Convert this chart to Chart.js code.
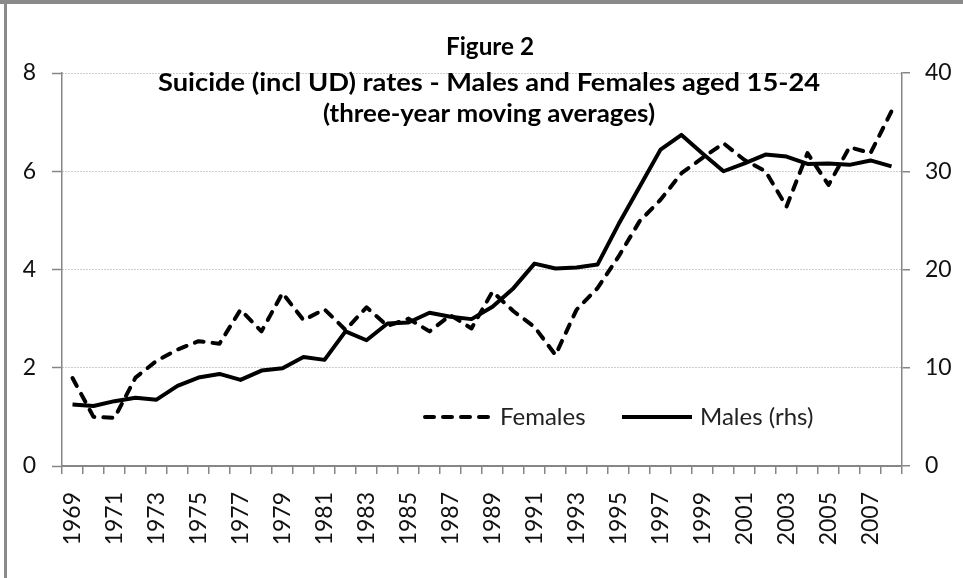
<!DOCTYPE html>
<html>
<head>
<meta charset="utf-8">
<script src="https://cdn.jsdelivr.net/npm/chart.js@4.4.1/dist/chart.umd.min.js"></script>
<style>
  html, body { margin: 0; padding: 0; background: #fff; }
  #wrap { width: 963px; height: 578px; position: relative; }
</style>
</head>
<body>
<div id="wrap"><canvas id="suicideChart" width="963" height="578"></canvas></div>
<script>
const years = [
  '1969', '1970', '1971', '1972', '1973', '1974', '1975', '1976', '1977', '1978',
  '1979', '1980', '1981', '1982', '1983', '1984', '1985', '1986', '1987', '1988',
  '1989', '1990', '1991', '1992', '1993', '1994', '1995', '1996', '1997', '1998',
  '1999', '2000', '2001', '2002', '2003', '2004', '2005', '2006', '2007', '2008'
];

// left axis
const females = [
  1.79, 1.0, 0.98, 1.8, 2.14, 2.37, 2.54, 2.49, 3.18, 2.74,
  3.52, 2.97, 3.19, 2.77, 3.23, 2.85, 3.0, 2.74, 3.07, 2.8,
  3.55, 3.15, 2.83, 2.26, 3.18, 3.62, 4.26, 4.98, 5.42, 5.96,
  6.27, 6.57, 6.23, 6.0, 5.28, 6.37, 5.72, 6.49, 6.37, 7.22
];

// right axis (rhs)
const males = [
  6.25, 6.1, 6.6, 6.95, 6.75, 8.15, 9.0, 9.37, 8.76, 9.71,
  9.95, 11.1, 10.8, 13.7, 12.8, 14.5, 14.6, 15.6, 15.2, 14.95,
  16.2, 18.1, 20.6, 20.1, 20.2, 20.5, 24.6, 28.4, 32.2, 33.7,
  31.8, 30.0, 30.8, 31.7, 31.5, 30.75, 30.8, 30.65, 31.1, 30.5
];

const leftTicks = [0, 2, 4, 6, 8];
const rightTicks = [0, 10, 20, 30, 40];

const titleLines = [
  'Figure 2',
  'Suicide (incl UD) rates - Males and Females aged 15-24',
  '(three-year moving averages)'
];
const legendLabels = ['Females', 'Males (rhs)'];

const AXIS_GREY = '#868686';
const FONT = 'Lato';

class RatesChart {
  constructor(canvas) {
    this.canvas = canvas;
    this.init();
  }

  async init() {
    // canvas text needs the fonts ready before the first draw
    await Promise.all([
      document.fonts.load('bold 24px ' + FONT),
      document.fonts.load('23px ' + FONT)
    ]);
    this.createChart();
  }

  createChart() {
    this.chart = new Chart(this.canvas, {
      type: 'line',
      data: {
        labels: years,
        datasets: [{
          label: legendLabels[0],
          data: females,
          yAxisID: 'y',
          borderColor: '#000',
          borderWidth: 4,
          borderDash: [9, 9],
          borderCapStyle: 'round',
          borderJoinStyle: 'round',
          pointRadius: 0,
          tension: 0
        }, {
          label: legendLabels[1],
          data: males,
          yAxisID: 'y1',
          borderColor: '#000',
          borderWidth: 4,
          borderJoinStyle: 'round',
          pointRadius: 0,
          tension: 0
        }]
      },
      options: {
        responsive: false,
        animation: false,
        layout: { padding: { top: 73, left: 0, right: 0, bottom: 0 } },
        plugins: {
          legend: { display: false },
          title: { display: false },
          tooltip: { enabled: false }
        },
        scales: {
          x: {
            offset: true,
            afterFit: (scale) => { scale.height = 112; },
            grid: {
              offset: true,
              drawOnChartArea: false,
              tickLength: 8,
              color: AXIS_GREY,
              lineWidth: 1.5
            },
            border: { color: AXIS_GREY, width: 2 },
            ticks: {
              autoSkip: false,
              minRotation: 90,
              maxRotation: 90,
              padding: 18,
              color: '#111',
              font: { family: FONT, size: 23 },
              callback: (value, index) => (index % 2 === 0 ? years[index] : '')
            }
          },
          y: {
            position: 'left',
            min: 0,
            max: 8,
            afterFit: (scale) => { scale.width = 62; },
            afterBuildTicks: (scale) => {
              scale.ticks = leftTicks.map(v => ({ value: v }));
            },
            grid: {
              color: '#9a9a9a',
              lineWidth: 1,
              tickLength: 10,
              tickColor: AXIS_GREY,
              tickWidth: 1.5
            },
            border: { color: AXIS_GREY, width: 1.5, dash: [1, 2] },
            ticks: {
              padding: 16,
              color: '#111',
              font: { family: FONT, size: 23 }
            }
          },
          y1: {
            position: 'right',
            min: 0,
            max: 40,
            afterFit: (scale) => { scale.width = 61; },
            afterBuildTicks: (scale) => {
              scale.ticks = rightTicks.map(v => ({ value: v }));
            },
            grid: {
              drawOnChartArea: false,
              tickLength: 8,
              color: AXIS_GREY,
              lineWidth: 1.5
            },
            border: { color: AXIS_GREY, width: 1.5 },
            ticks: {
              padding: 15,
              color: '#111',
              font: { family: FONT, size: 23 }
            }
          }
        }
      },
      plugins: [this.framePlugin(), this.overlayPlugin()]
    });
  }

  // grey border of the original screenshot
  framePlugin() {
    return {
      id: 'frame',
      beforeDraw(chart) {
        const ctx = chart.ctx;
        ctx.save();
        ctx.fillStyle = '#fff';
        ctx.fillRect(0, 0, chart.width, chart.height);
        ctx.fillStyle = '#8a8a8a';
        ctx.fillRect(0, 0, chart.width, 4);
        ctx.fillRect(4, 0, 3, chart.height);
        ctx.restore();
      }
    };
  }

  // title and legend sit inside the plot area, as in the original
  overlayPlugin() {
    // the original uses a narrow font stretched wide, so fit each line to its width
    const drawFitted = (ctx, text, cx, cy, width) => {
      const natural = ctx.measureText(text).width;
      const sx = width ? width / natural : 1;
      ctx.save();
      ctx.translate(cx, cy);
      ctx.scale(sx, 1);
      ctx.fillText(text, 0, 0);
      ctx.restore();
    };

    return {
      id: 'overlay',
      afterDraw(chart) {
        const ctx = chart.ctx;
        ctx.save();
        ctx.fillStyle = '#000';
        ctx.textAlign = 'center';
        ctx.textBaseline = 'middle';
        ctx.font = 'bold 24px ' + FONT;
        drawFitted(ctx, titleLines[0], 490, 47, 88);
        drawFitted(ctx, titleLines[1], 489, 83, 662);
        drawFitted(ctx, titleLines[2], 489, 114, 332);

        // legend
        const ly = 417;
        ctx.strokeStyle = '#000';
        ctx.lineWidth = 4;
        ctx.lineCap = 'round';
        ctx.setLineDash([9, 9]);
        ctx.beginPath();
        ctx.moveTo(425, ly);
        ctx.lineTo(493, ly);
        ctx.stroke();
        ctx.setLineDash([]);
        ctx.lineCap = 'butt';
        ctx.beginPath();
        ctx.moveTo(622, ly);
        ctx.lineTo(692, ly);
        ctx.stroke();

        ctx.font = '24px ' + FONT;
        ctx.textAlign = 'left';
        ctx.fillStyle = '#222';
        ctx.fillText(legendLabels[0], 500, ly);
        ctx.fillText(legendLabels[1], 700, ly);
        ctx.restore();
      }
    };
  }
}

new RatesChart(document.getElementById('suicideChart'));
</script>
</body>
</html>
